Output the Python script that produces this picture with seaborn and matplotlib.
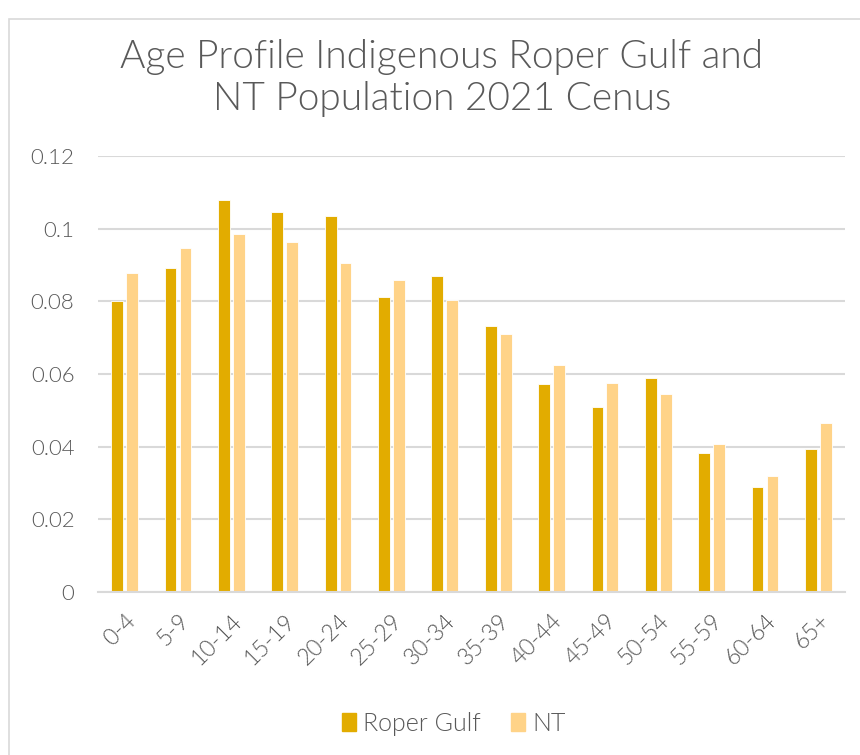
import matplotlib
matplotlib.use("Agg")
import matplotlib.pyplot as plt
import seaborn as sns
import pandas as pd
from matplotlib.patches import Rectangle

categories = ["0-4", "5-9", "10-14", "15-19", "20-24", "25-29", "30-34",
              "35-39", "40-44", "45-49", "50-54", "55-59", "60-64", "65+"]
roper_gulf = [0.0801, 0.0892, 0.1078, 0.1047, 0.1036, 0.0812, 0.0869,
              0.0733, 0.0572, 0.0509, 0.0589, 0.0383, 0.0288, 0.0393]
nt = [0.0878, 0.0948, 0.0984, 0.0964, 0.0905, 0.0860, 0.0805,
      0.0710, 0.0625, 0.0575, 0.0545, 0.0408, 0.0319, 0.0464]
series_names = ["Roper Gulf", "NT"]
y_ticks = [0, 0.02, 0.04, 0.06, 0.08, 0.1, 0.12]
y_tick_labels = ["0", "0.02", "0.04", "0.06", "0.08", "0.1", "0.12"]
title = "Age Profile Indigenous Roper Gulf and\nNT Population 2021 Cenus"

df = pd.DataFrame({
    "age": categories * 2,
    "value": roper_gulf + nt,
    "series": [series_names[0]] * len(categories) + [series_names[1]] * len(categories),
})

sns.set_theme(style="white")
plt.rcParams["font.family"] = ["Lato", "DejaVu Sans"]
text_color = "#595959"
fw = 300

fig = plt.figure(figsize=(8.6, 7.55), dpi=100)
ax = fig.add_axes([98 / 860, 1 - 592 / 755, (845 - 98) / 860, (592 - 156) / 755])

palette = {"Roper Gulf": "#E2AC00", "NT": "#FFD388"}
sns.barplot(data=df, x="age", y="value", hue="series", palette=palette,
            width=0.56, gap=0.21, ax=ax, legend=False, saturation=1,
            edgecolor="white", linewidth=0.6)

ax.set_ylim(0, 0.12)
ax.set_xlim(-0.5, len(categories) - 0.5)
ax.set_yticks(y_ticks)
ax.set_yticklabels(y_tick_labels, fontsize=16, color=text_color, fontweight=fw)
ax.set_xticks(range(len(categories)))
ax.set_xticklabels(categories, rotation=45, ha="right", rotation_mode="anchor",
                   fontsize=16.5, color=text_color, fontweight=fw)
ax.tick_params(axis="y", length=0, pad=17)
ax.tick_params(axis="x", length=0, pad=13)
ax.set_xlabel("")
ax.set_ylabel("")
ax.yaxis.grid(True, color="#d9d9d9", linewidth=1.5)
ax.set_axisbelow(True)
for s in ["top", "right", "left"]:
    ax.spines[s].set_visible(False)
ax.spines["bottom"].set_color("#d9d9d9")
ax.spines["bottom"].set_linewidth(1.5)

fig.text(442 / 860, 1 - 78 / 755, title, ha="center", va="center",
         fontsize=28, color=text_color, linespacing=1.2, fontweight=fw)

# legend
handles = [Rectangle((0, 0), 1, 1, color=palette[n]) for n in series_names]
fig.legend(handles, series_names, loc="center", bbox_to_anchor=(454 / 860, 1 - 724 / 755),
           ncol=2, frameon=False, prop={"size": 18, "weight": fw},
           handlelength=0.55, handleheight=0.75,
           handletextpad=0.3, columnspacing=1.2, labelcolor=text_color)

# chart border
fig.patches.append(Rectangle((9 / 860, -0.01), 1.0, 1 - 19 / 755 + 0.01,
                             transform=fig.transFigure, fill=False,
                             edgecolor="#d9d9d9", linewidth=1.2))

fig.savefig("out.png", dpi=100)
